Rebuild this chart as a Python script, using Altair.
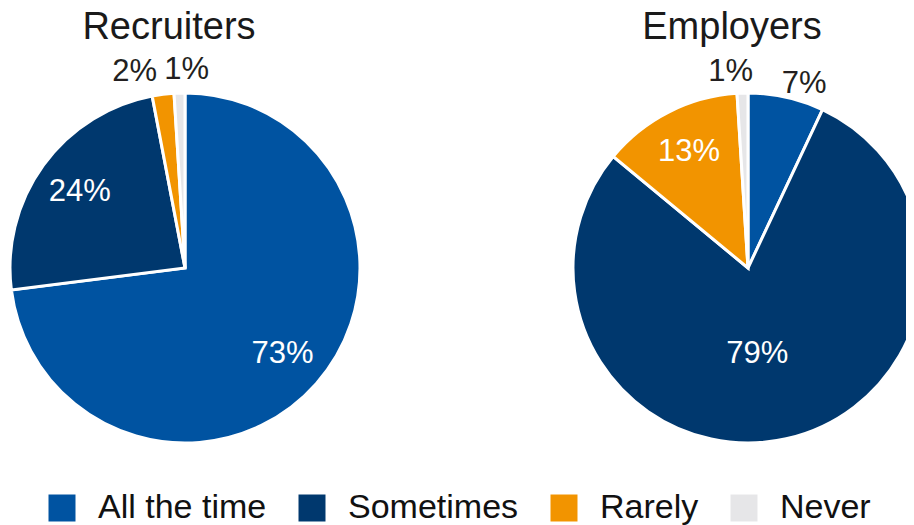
import altair as alt
import pandas as pd

groups = ["Recruiters", "Employers"]
categories = ["All the time", "Sometimes", "Rarely", "Never"]
recruiters = [73, 24, 2, 1]
employers = [7, 79, 13, 1]
colors = ["#0053A1", "#00386E", "#F29400", "#E6E6E8"]

rows = []
for g, vals in zip(groups, [recruiters, employers]):
    for i, (c, v) in enumerate(zip(categories, vals)):
        rows.append({"group": g, "category": c, "value": v, "idx": i})
df = pd.DataFrame(rows)
titles = pd.DataFrame({"group": groups})

W, H = 898, 517
R = 175
CX = {"Recruiters": 177, "Employers": 740}
CY = 260
FONT = "Liberation Sans"
DARK = "#231f20"

color_enc = alt.Color(
    "category:N",
    scale=alt.Scale(domain=categories, range=colors),
    legend=alt.Legend(
        title=None,
        orient="none",
        direction="horizontal",
        legendX=37,
        legendY=483,
        symbolType="square",
        symbolSize=729,
        symbolStrokeWidth=0,
        symbolOpacity=1,
        labelFont=FONT,
        labelFontSize=34,
        labelColor="#111111",
        labelOffset=19,
        columnPadding=28,
        padding=0,
        labelLimit=400,
    ),
)


def labelled(g):
    return (
        alt.Chart(df)
        .transform_filter(alt.datum.group == g)
        .transform_joinaggregate(total="sum(value)")
        .transform_window(cum="sum(value)", sort=[alt.SortField("idx")], frame=[None, 0])
        .transform_calculate(
            mid="(datum.cum - datum.value / 2) / datum.total * 2 * PI",
            label="datum.value + '%'",
        )
    )


layers = []
for g in groups:
    cx = CX[g]
    pie = (
        alt.Chart(df)
        .transform_filter(alt.datum.group == g)
        .mark_arc(outerRadius=R, stroke="white", strokeWidth=3)
        .encode(
            theta=alt.Theta("value:Q", stack=True),
            color=color_enc,
            order=alt.Order("idx:Q"),
            x=alt.value(cx),
            y=alt.value(CY),
        )
    )
    layers.append(pie)

    base = labelled(g)
    # inside labels: large slices sit nearer the centre
    for flt, rad, dx in [
        ((alt.datum.value >= 10) & (alt.datum.value <= 75), 130, 0),
        (alt.datum.value > 75, 88, -10),
    ]:
        inner = base.transform_filter(flt).mark_text(
            font=FONT, fontSize=31, color="white", baseline="middle", align="center", dx=dx
        ).encode(
            text="label:N",
            theta=alt.Theta("mid:Q", scale=None),
            radius=alt.value(rad),
            x=alt.value(cx),
            y=alt.value(CY),
        )
        layers.append(inner)

    if g == "Recruiters":
        outer_specs = [("Rarely", "right", -3, 0), ("Never", "center", 8, 0)]
    else:
        outer_specs = [("All the time", "center", 13, 9), ("Never", "center", -11, 2)]
    for cat, al, dx, dy in outer_specs:
        o = base.transform_filter(alt.datum.category == cat).mark_text(
            font=FONT, fontSize=31, color=DARK, baseline="middle", align=al, dx=dx, dy=dy
        ).encode(
            text="label:N",
            theta=alt.Theta("mid:Q", scale=None),
            radius=alt.value(198),
            x=alt.value(cx),
            y=alt.value(CY),
        )
        layers.append(o)

    t = (
        alt.Chart(titles)
        .transform_filter(alt.datum.group == g)
        .mark_text(font=FONT, fontSize=38, color="#1a1a1a", baseline="alphabetic", align="center")
        .encode(text="group:N", x=alt.value(cx - 16), y=alt.value(31))
    )
    layers.append(t)

chart = (
    alt.layer(*layers)
    .properties(width=W, height=H, padding=0, autosize=alt.AutoSizeParams(type="none"))
    .configure_view(stroke=None)
)

chart.save("out.html", embed_options={"renderer": "svg", "actions": False})
